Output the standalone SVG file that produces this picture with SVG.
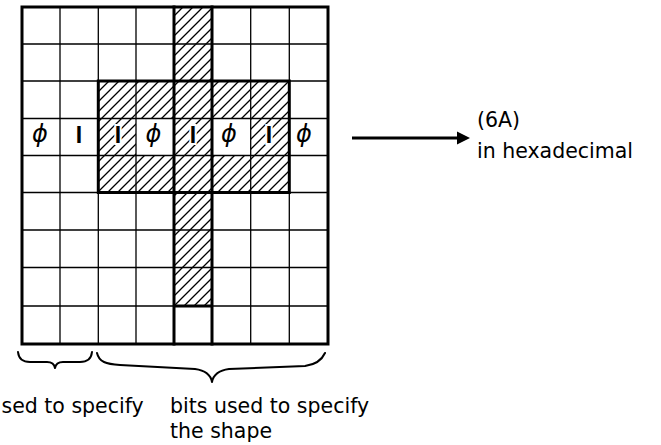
<svg xmlns="http://www.w3.org/2000/svg" width="661" height="445" viewBox="0 0 661 445">
  <style>
    .thin { stroke: #000; stroke-width: 1.3; fill: none; }
    .thick { stroke: #000; stroke-width: 3; fill: none; stroke-linecap: square; }
    .hatch { fill: url(#diag); stroke: none; }
    .one { font-family: "Liberation Sans", Arial, sans-serif; font-weight: bold; font-size: 23px; text-anchor: middle; fill: #000; }
    .zero { font-family: "DejaVu Sans", sans-serif; font-style: italic; font-size: 24px; text-anchor: middle; fill: #000; }
    .halo { stroke: #fff; stroke-width: 4; paint-order: stroke; }
    .label { font-family: "DejaVu Sans", sans-serif; font-size: 20.5px; fill: #000; }
    .brace { stroke: #000; stroke-width: 2; fill: none; stroke-linecap: round; stroke-linejoin: round; }
    .conn { stroke: #000; stroke-width: 3; fill: none; }
  </style>
  <defs>
    <!-- 45-degree "/" shading for the filled bits -->
    <pattern id="diag" patternUnits="userSpaceOnUse" width="10" height="10">
      <path d="M0,10 L10,0 M-2,2 L2,-2 M8,12 L12,8" stroke="#000" stroke-width="1.3"/>
    </pattern>
    <marker id="ah" markerUnits="userSpaceOnUse" markerWidth="14" markerHeight="14" refX="1" refY="7" orient="auto">
      <path d="M0,0.5 L13,7 L0,13.5 Z" fill="#000"/>
    </marker>
  </defs>

  <rect width="661" height="445" fill="#fff"/>

  <!-- 8 x 9 character cell -->
  <g id="cell-grid">
    <!-- shaded cells: vertical stroke of the "T" -->
    <rect class="hatch" x="174" y="7" width="38" height="74"/>
    <rect class="hatch" x="174" y="192.5" width="38" height="113.5"/>
    <!-- shaded cells: horizontal block -->
    <rect class="hatch" x="98.3" y="81" width="190.99" height="37.5"/>
    <rect class="hatch" x="98.3" y="155.5" width="190.99" height="37"/>
    <rect class="hatch" x="98.3" y="118.5" width="37.7" height="37"/>
    <rect class="hatch" x="174" y="118.5" width="38" height="37"/>
    <rect class="hatch" x="250.7" y="118.5" width="38.6" height="37"/>

    <g class="thin">
      <path d="M60,7 V344 M98.3,7 V344 M136,7 V344 M174,7 V344 M212,7 V344 M250.7,7 V344 M289.3,7 V344"/>
      <path d="M22,44 H328 M22,81 H328 M22,118.5 H328 M22,155.5 H328 M22,192.5 H328 M22,230 H328 M22,267.5 H328 M22,306 H328"/>
    </g>

    <g class="thick">
      <rect x="22" y="7" width="306" height="337"/>
      <path d="M174,7 V344 M212,7 V344 M174,306 H212"/>
      <rect x="98.3" y="81" width="191" height="111.5"/>
    </g>
  </g>

  <!-- bit values of the middle row -->
  <g id="row-bits">
    <text class="zero" x="40" y="142">ϕ</text>
    <text class="one" x="79" y="143">I</text>
    <text class="one halo" x="118" y="143">I</text>
    <text class="zero" x="153.5" y="142">ϕ</text>
    <text class="one halo" x="193" y="143">I</text>
    <text class="zero" x="229" y="142">ϕ</text>
    <text class="one halo" x="269" y="143">I</text>
    <text class="zero" x="304" y="142">ϕ</text>
  </g>

  <g id="connectors">
    <line class="conn" x1="352" y1="138" x2="458" y2="138" marker-end="url(#ah)"/>
  </g>

  <g id="hex-value">
    <text class="label" x="477" y="127">(6A)</text>
    <text class="label" x="477" y="158">in hexadecimal</text>
  </g>

  <g id="braces">
    <path class="brace" d="M18,352 Q19,362 30,362 L47,362 Q54,362 55,368 Q56,362 63,362 L80,362 Q91,362 92,352"/>
    <path class="brace" d="M97,353 C99,362 106,364 120,365 L195,369 Q210,371 212,382 Q214,371 229,369 L305,366 Q320,364 325,353"/>
  </g>

  <g id="brace-labels">
    <text class="label" x="1.5" y="413">sed to specify</text>
    <text class="label" x="170" y="413">bits used to specify</text>
    <text class="label" x="170" y="438">the shape</text>
  </g>
</svg>
